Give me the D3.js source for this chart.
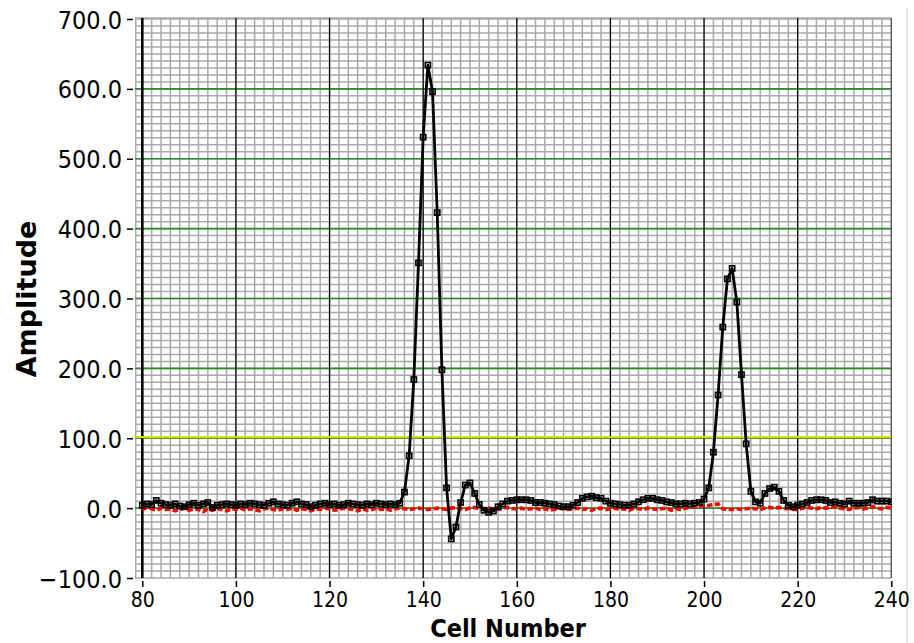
<!DOCTYPE html>
<html><head><meta charset="utf-8">
<script src="https://cdn.jsdelivr.net/npm/d3@7"></script>
<style>
html,body{margin:0;padding:0;background:#fff;}
svg{display:block;}
</style></head>
<body>
<svg id="chart" width="914" height="643"></svg>
<script>
// ---------- data ----------
const cellStart = 80;
// black trace (amplitude per cell, cells 80..240)
const amplitude = [
  4, 6, 5, 11, 7, 5, 4, 6, 3, 2,          // 80-89
  5, 7, 4, 6, 8, 1, 4, 5, 6, 5,           // 90-99
  4, 6, 5, 7, 6, 5, 4, 7, 9, 6,           // 100-109
  5, 4, 7, 9, 6, 5, 2, 4, 6, 7,           // 110-119
  5, 6, 4, 5, 7, 6, 5, 4, 6, 5,           // 120-129
  7, 6, 5, 6, 5, 7, 23, 75, 184, 351,     // 130-139
  531, 634, 596, 423, 198, 29, -44, -27, 8, 33, // 140-149
  36, 21, 5, -3, -6, -4, 2, 6, 10, 11,    // 150-159
  12, 12, 12, 11, 8, 8, 7, 6, 5, 3,       // 160-169
  2, 2, 4, 8, 14, 16, 17, 15, 14, 10,     // 170-179
  7, 6, 5, 4, 4, 6, 9, 12, 14, 14,        // 180-189
  12, 11, 9, 8, 6, 6, 7, 6, 7, 8,         // 190-199
  13, 29, 80, 162, 259, 328, 343, 295, 191, 92, // 200-209
  24, 9, 7, 21, 28, 30, 24, 11, 4, 2,     // 210-219
  4, 6, 8, 11, 12, 12, 11, 8, 9, 7,       // 220-229
  6, 10, 7, 7, 7, 8, 12, 10, 10, 10,      // 230-239
  9                                       // 240
];
// red trace (reference level per cell, cells 80..240)
const reference = [
  -2, 1, -1, -3, 0, -2, -1, -4, -2, 0, -3, -1, -2, -5, -1, -3, 0, -2, -4, -1,
  -2, 0, -3, -1, -2, -4, -1, 0, -2, -3, -1, -2, 0, -3, -1, -2, -4, -1, -2, 0,
  -1, -3, -2, 0, -1, -2, -4, -1, -3, -2, 0, -2, -1, -3, -1, 0, -1, -2, -1, 0,
  -1, -2, -1, 0, -1, -2, 0, 1, -1, -2, 0, 1, -1, -2, 0, -1, -2, 0, 1, -1,
  -1, 0, -2, -1, 0, -2, -1, -3, -2, 0, -1, -2, -1, 0, -2, -1, -3, -1, 0, -2,
  -1, 0, -2, -1, -3, 0, -1, -2, 0, -1, -2, -1, 0, -3, -1, -2, 0, 1, 2, 3,
  3, 4, 5, 6, -1, -2, -2, -1, -2, -1, 0, -1, -2, 0, 1, 0, 1, 0, -1, -2,
  -2, 0, 1, 0, -1, 1, 0, 1, 2, 0, -1, -2, 0, 1, -1, 0, 2, 0, -1, 1, 0
];
const xTickValues = [80, 100, 120, 140, 160, 180, 200, 220, 240];
const yTickValues = [-100, 0, 100, 200, 300, 400, 500, 600, 700];
const thresholdLevel = 100;
const xLabel = "Cell Number";
const yLabel = "Amplitude";

// ---------- layout ----------
const svg = d3.select("#chart");
const plot = {left: 135, right: 891, top: 18, bottom: 578};
const x = d3.scaleLinear().domain([80, 240]).range([142.3, 891.3]);
const y = d3.scaleLinear().domain([-100, 700]).range([578, 19]);

svg.append("rect").attr("width", 914).attr("height", 643).attr("fill", "#fff");

// faint window border at right
svg.append("line").attr("x1", 907).attr("x2", 907).attr("y1", 8).attr("y2", 643)
  .attr("stroke", "#e6e6e6").attr("stroke-width", 2);

svg.append("defs").append("clipPath").attr("id", "clip")
  .append("rect").attr("x", plot.left).attr("y", plot.top - 1)
  .attr("width", plot.right - plot.left + 1).attr("height", plot.bottom - plot.top + 2);

const grid = svg.append("g");

// minor grid
const minorX = d3.range(80, 241, 2);
const minorY = d3.range(-100, 701, 10);
grid.selectAll("line.mx").data(minorX).join("line").attr("class", "mx")
  .attr("x1", d => x(d)).attr("x2", d => x(d))
  .attr("y1", plot.top).attr("y2", plot.bottom)
  .attr("stroke", "#a9a9a9").attr("stroke-width", 1.5);
grid.selectAll("line.my").data(minorY).join("line").attr("class", "my")
  .attr("x1", plot.left).attr("x2", plot.right)
  .attr("y1", d => y(d)).attr("y2", d => y(d))
  .attr("stroke", "#a9a9a9").attr("stroke-width", 1.5);
// left / top border
grid.append("line").attr("x1", plot.left + 0.75).attr("x2", plot.left + 0.75)
  .attr("y1", plot.top).attr("y2", plot.bottom).attr("stroke", "#a9a9a9").attr("stroke-width", 1.5);
grid.append("line").attr("x1", plot.left).attr("x2", plot.right)
  .attr("y1", plot.top).attr("y2", plot.top).attr("stroke", "#a9a9a9").attr("stroke-width", 1.5);

// major horizontal (green)
grid.selectAll("line.gy").data(yTickValues.filter(v => v >= 0 && v <= 600)).join("line").attr("class", "gy")
  .attr("x1", plot.left).attr("x2", plot.right)
  .attr("y1", d => y(d)).attr("y2", d => y(d))
  .attr("stroke", "#2a8c2a").attr("stroke-width", 1.6);

// major vertical (black)
grid.selectAll("line.gx").data(xTickValues).join("line").attr("class", "gx")
  .attr("x1", d => x(d)).attr("x2", d => x(d))
  .attr("y1", plot.top).attr("y2", plot.bottom)
  .attr("stroke", d => d === 240 ? "#555" : "#000")
  .attr("stroke-width", d => d === 80 ? 2.6 : 1.2);

// threshold line (yellow over green)
grid.append("line").attr("x1", plot.left).attr("x2", plot.right)
  .attr("y1", y(thresholdLevel) - 1.2).attr("y2", y(thresholdLevel) - 1.2)
  .attr("stroke", "#d8dc00").attr("stroke-width", 2.2);

// ---------- data traces ----------
const data = svg.append("g").attr("clip-path", "url(#clip)");
const refPts = reference.map((v, i) => ({c: cellStart + i, v}));
const ampPts = amplitude.map((v, i) => ({c: cellStart + i, v}));
const line = d3.line().x(d => x(d.c)).y(d => y(d.v));

data.append("path").datum(refPts).attr("d", line)
  .attr("fill", "none").attr("stroke", "#ff0000").attr("stroke-width", 3.6)
  .attr("stroke-dasharray", "5.5,2.5");

data.append("path").datum(ampPts).attr("d", line)
  .attr("fill", "none").attr("stroke", "#000").attr("stroke-width", 2.8)
  .attr("stroke-linejoin", "round");

data.selectAll("rect.m").data(ampPts).join("rect").attr("class", "m")
  .attr("x", d => x(d.c) - 2.6).attr("y", d => y(d.v) - 2.6)
  .attr("width", 5.2).attr("height", 5.2)
  .attr("fill", "none").attr("stroke", "#000").attr("stroke-width", 1.6);

// ---------- axes ----------
const tickFont = "'DejaVu Sans Condensed', 'DejaVu Sans', sans-serif";

const yAxis = svg.append("g").attr("transform", "translate(133,0)")
  .call(d3.axisLeft(y).tickValues(yTickValues).tickFormat(d3.format(".1f")).tickSize(6).tickPadding(5));
yAxis.select(".domain").remove();
yAxis.selectAll("line").attr("stroke", "#000").attr("stroke-width", 1.5);
yAxis.selectAll("text").attr("font-family", tickFont).attr("font-stretch", "condensed")
  .attr("font-size", 25).attr("fill", "#000").attr("dy", "0.36em");

const xAxis = svg.append("g").attr("transform", "translate(0,581)")
  .call(d3.axisBottom(x).tickValues(xTickValues).tickFormat(d3.format("d")).tickSize(6).tickPadding(5));
xAxis.select(".domain").remove();
xAxis.selectAll("line").attr("stroke", "#000").attr("stroke-width", 1.5);
xAxis.selectAll("text").attr("font-family", tickFont).attr("font-stretch", "condensed")
  .attr("font-size", 21).attr("fill", "#000");

// ---------- axis titles ----------
svg.append("text").attr("transform", "translate(36,299) rotate(-90)")
  .attr("text-anchor", "middle").attr("font-family", "'DejaVu Sans', sans-serif")
  .attr("font-weight", "bold").attr("font-size", 27).attr("fill", "#000").text(yLabel);

svg.append("text").attr("x", 508).attr("y", 637)
  .attr("text-anchor", "middle").attr("font-family", "'DejaVu Sans Condensed', 'DejaVu Sans', sans-serif")
  .attr("font-stretch", "condensed")
  .attr("font-weight", "bold").attr("font-size", 25).attr("fill", "#000").text(xLabel);
</script>
</body></html>
